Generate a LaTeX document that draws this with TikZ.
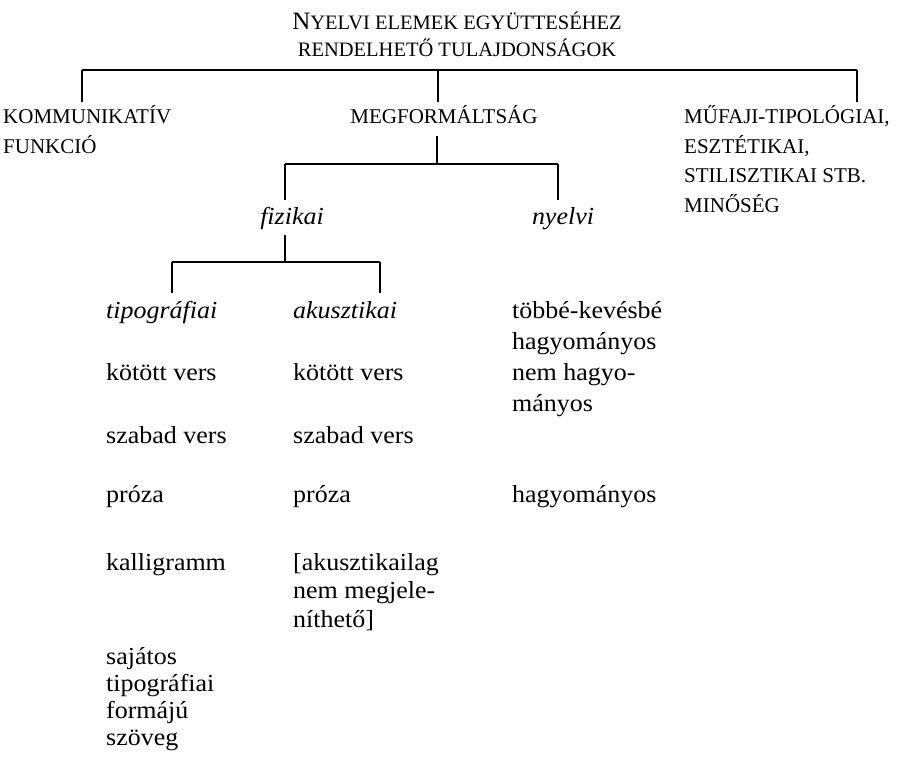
\documentclass[tikz,border=0pt]{standalone}
\usepackage{fontspec}
\setmainfont{Liberation Serif}
\newfontfamily\textfam{Liberation Serif}[FakeStretch=1.06]

\begin{document}
\begin{tikzpicture}[
  x=1pt, y=-1pt,
  toptitle/.style={align=center, inner sep=0pt, anchor=base, font=\fontsize{20.5}{27}\selectfont},
  heading/.style={align=left, inner sep=0pt, anchor=base west, font=\fontsize{21}{29.5}\selectfont},
  entry/.style={align=left, inner sep=0pt, anchor=base west, font=\textfam\fontsize{24.5}{28.5}\selectfont},
  kind/.style={entry, font=\textfam\itshape\fontsize{24.5}{28.5}\selectfont},
  branch/.style={line width=2.2pt},
  drop/.style={branch, shorten >=#1},
  drop/.default=8pt
]
\useasboundingbox (0,0) rectangle (899,759);

% multi-line nodes sit on the baseline of their last line
\node[toptitle] (root) at (457,57) {{\fontsize{25}{27}\selectfont N}YELVI ELEMEK EGYÜTTESÉHEZ\\RENDELHETŐ TULAJDONSÁGOK};

\node[heading] (komm) at (3,153.5) {KOMMUNIKATÍV\\FUNKCIÓ};
\node[heading, anchor=base] (megf) at (444,124) {MEGFORMÁLTSÁG};
\node[heading] (muf) at (684,212.5) {MŰFAJI-TIPOLÓGIAI,\\ESZTÉTIKAI,\\STILISZTIKAI STB.\\MINŐSÉG};

\node[kind, anchor=base] (fiz) at (292,225) {fizikai};
\node[kind, anchor=base] (nyel) at (563,225) {nyelvi};

\node[kind] (tipo) at (106,318) {tipográfiai};
\node[kind] (akus) at (293,318) {akusztikai};
\node[entry, font=\textfam\fontsize{24.5}{31}\selectfont] (hagy1) at (512,411) {többé-kevésbé\\hagyományos\\nem hagyo-\\mányos};

\foreach \txt/\y/\nm in {kötött vers/380/kotott, szabad vers/443/szabad, próza/502/proza} {
  \node[entry] (\nm-t) at (106,\y) {\txt};
  \node[entry] (\nm-a) at (293,\y) {\txt};
}
\node[entry] (hagy2) at (512,502) {hagyományos};

\node[entry] (kalli) at (106,570) {kalligramm};
\node[entry] (nemak) at (293,627) {[akusztikailag\\nem megjele-\\níthető]};
\node[entry, font=\textfam\fontsize{24.5}{26.7}\selectfont] (sajat) at (106,745) {sajátos\\tipográfiai\\formájú\\szöveg};

\coordinate (j0L) at (82,70);
\coordinate (j0M) at (438,70);
\coordinate (j0R) at (857,70);
\coordinate (j1L) at (285,164);
\coordinate (j1M) at (437,164);
\coordinate (j1R) at (558,164);
\coordinate (j2L) at (172,262);
\coordinate (j2M) at (285,262);
\coordinate (j2R) at (380,262);

\draw[branch] (j0L) -- (j0R);
\foreach \j/\n in {j0L/komm, j0M/megf, j0R/muf} {
  \draw[drop=4pt] (\j) -- (\j |- \n.north);
}

\draw[branch, shorten <=12pt] (j1M |- megf.south) -- (j1M);
\draw[branch] (j1L) -- (j1R);
\draw[drop] (j1L) -- (j1L |- fiz.north);
\draw[drop] (j1R) -- (j1R |- nyel.north);

\draw[branch, shorten <=5pt] (j2M |- fiz.south) -- (j2M);
\draw[branch] (j2L) -- (j2R);
\draw[drop] (j2L) -- (j2L |- tipo.north);
\draw[drop] (j2R) -- (j2R |- akus.north);

\end{tikzpicture}
\end{document}
